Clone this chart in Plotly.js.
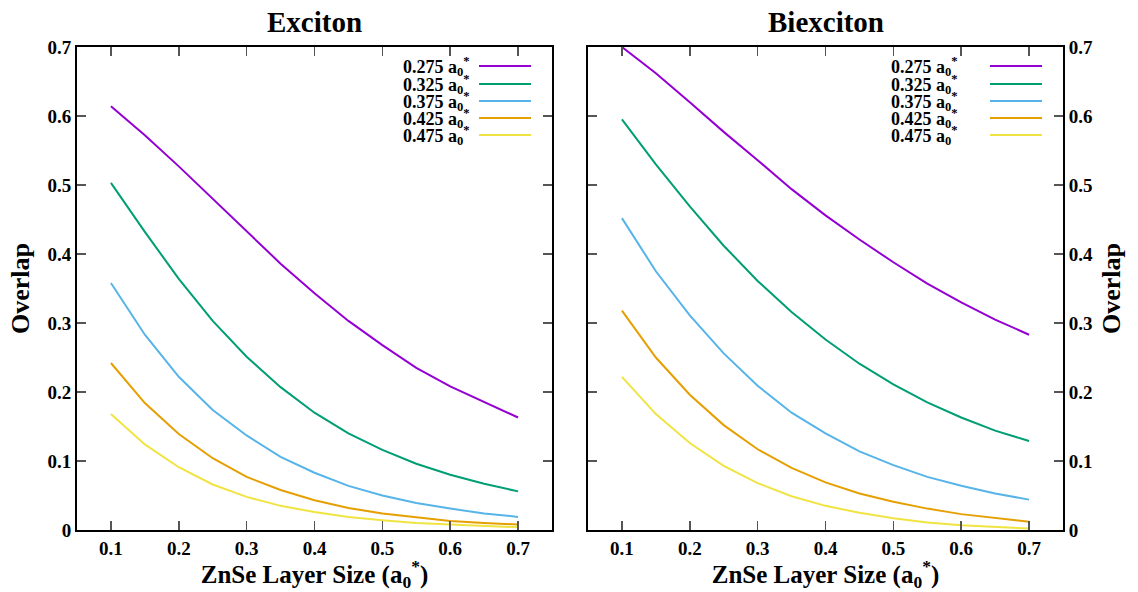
<!DOCTYPE html>
<html><head><meta charset="utf-8">
<script src="https://cdn.plot.ly/plotly-3.0.1.min.js"></script>
<style>html,body{margin:0;padding:0;background:#fff}#c{width:1138px;height:592px}</style>
</head><body><div id="c"></div>
<script>
const layerSize = [0.1,0.15,0.2,0.25,0.3,0.35,0.4,0.45,0.5,0.55,0.6,0.65,0.7];
const seriesNames = ["0.275", "0.325", "0.375", "0.425", "0.475"];
const colors = ["#9400d3", "#009e73", "#56b4e9", "#e69f00", "#f0e442"];

const exciton275 = [0.614,0.572,0.527,0.480,0.433,0.386,0.343,0.303,0.268,0.235,0.208,0.185,0.163];
const exciton325 = [0.503,0.432,0.364,0.303,0.251,0.207,0.170,0.140,0.116,0.096,0.080,0.067,0.056];
const exciton375 = [0.358,0.283,0.222,0.174,0.137,0.106,0.083,0.064,0.050,0.039,0.031,0.024,0.019];
const exciton425 = [0.242,0.184,0.139,0.104,0.077,0.058,0.043,0.032,0.024,0.018,0.013,0.010,0.008];
const exciton475 = [0.168,0.124,0.091,0.066,0.048,0.035,0.026,0.019,0.014,0.010,0.008,0.006,0.004];

const biex275 = [0.700,0.662,0.620,0.577,0.536,0.494,0.456,0.421,0.388,0.357,0.330,0.305,0.283];
const biex325 = [0.595,0.530,0.469,0.412,0.361,0.316,0.276,0.241,0.211,0.185,0.163,0.144,0.129];
const biex375 = [0.452,0.375,0.311,0.256,0.209,0.170,0.140,0.114,0.094,0.077,0.064,0.053,0.044];
const biex425 = [0.318,0.250,0.196,0.152,0.117,0.090,0.069,0.053,0.041,0.031,0.023,0.017,0.012];
const biex475 = [0.222,0.168,0.126,0.093,0.068,0.049,0.035,0.025,0.017,0.011,0.007,0.004,0.002];

const xTickVals = [0.1,0.2,0.3,0.4,0.5,0.6,0.7];
const yTickVals = [0,0.1,0.2,0.3,0.4,0.5,0.6,0.7];

const excitonSets = [exciton275, exciton325, exciton375, exciton425, exciton475];
const biexSets = [biex275, biex325, biex375, biex425, biex475];

const W = 1138, H = 592;
const FONT = "Liberation Serif";
const traces = [];
excitonSets.forEach((ys, i) => traces.push({x: layerSize, y: ys, xaxis: 'x', yaxis: 'y', mode: 'lines', line: {color: colors[i], width: 2}, showlegend: false, hoverinfo: 'skip'}));
biexSets.forEach((ys, i) => traces.push({x: layerSize, y: ys, xaxis: 'x2', yaxis: 'y2', mode: 'lines', line: {color: colors[i], width: 2}, showlegend: false, hoverinfo: 'skip'}));

const yDom = [(H - 530) / H, (H - 47) / H];
const axBase = {
  range: [0.05, 0.75], tickvals: xTickVals, ticktext: xTickVals.map(v => '<b>' + v.toFixed(1) + '</b>'),
  ticks: 'inside', ticklen: 9, tickwidth: 1.5, tickcolor: '#555', mirror: 'allticks',
  showline: true, linecolor: '#000', linewidth: 2, showgrid: false, zeroline: false,
  tickfont: {family: FONT, size: 19, color: '#000'},
  title: {text: '<b>ZnSe Layer Size (a<sub>0</sub><sup>*</sup>)</b>', font: {family: FONT, size: 25, color: '#000'}, standoff: 4},
  automargin: false, fixedrange: true
};
const yBase = {
  range: [0, 0.7], tickvals: yTickVals, ticktext: yTickVals.map(v => '<b>' + (v === 0 ? '0' : v.toFixed(1)) + '</b>'),
  ticks: 'inside', ticklen: 9, tickwidth: 1.5, tickcolor: '#555', mirror: 'allticks',
  showline: true, linecolor: '#000', linewidth: 2, showgrid: false, zeroline: false,
  tickfont: {family: FONT, size: 19, color: '#000'},
  title: {text: '<b>Overlap</b>', font: {family: FONT, size: 26, color: '#000'}, standoff: 10},
  automargin: false, fixedrange: true, domain: yDom
};

const layout = {
  width: W, height: H,
  margin: {l: 0, r: 0, t: 0, b: 0},
  paper_bgcolor: '#fff', plot_bgcolor: '#fff',
  font: {family: FONT},
  xaxis: Object.assign({}, axBase, {domain: [77 / W, 552 / W], anchor: 'y'}),
  yaxis: Object.assign({}, yBase, {anchor: 'x', side: 'left'}),
  xaxis2: Object.assign({}, axBase, {domain: [588 / W, 1063 / W], anchor: 'y2'}),
  yaxis2: Object.assign({}, yBase, {anchor: 'x2', side: 'right'}),
  annotations: [], shapes: []
};

// panel titles
[['Exciton', (77 + 552) / 2 / W], ['Biexciton', (588 + 1063) / 2 / W]].forEach(([t, xp]) => {
  layout.annotations.push({text: '<b>' + t + '</b>', x: xp, y: (H - 22) / H, xref: 'paper', yref: 'paper', showarrow: false,
    xanchor: 'center', yanchor: 'middle', font: {family: FONT, size: 29, color: '#000'}});
});

// legends
const legendRows = [66, 84, 101, 118, 135];
[[472, 479, 531], [960, 990, 1042]].forEach(([tx, l0, l1]) => {
  seriesNames.forEach((n, i) => {
    const yp = (H - legendRows[i]) / H;
    layout.annotations.push({text: '<b>' + n + ' a<sub>0</sub><sup>*</sup></b>', x: tx / W, y: yp, xref: 'paper', yref: 'paper',
      showarrow: false, xanchor: 'right', yanchor: 'middle', font: {family: FONT, size: 18, color: '#000'}});
    layout.shapes.push({type: 'line', xref: 'paper', yref: 'paper', x0: l0 / W, x1: l1 / W, y0: yp, y1: yp,
      line: {color: colors[i], width: 2}});
  });
});

Plotly.newPlot('c', traces, layout, {staticPlot: true, displayModeBar: false});
</script></body></html>
